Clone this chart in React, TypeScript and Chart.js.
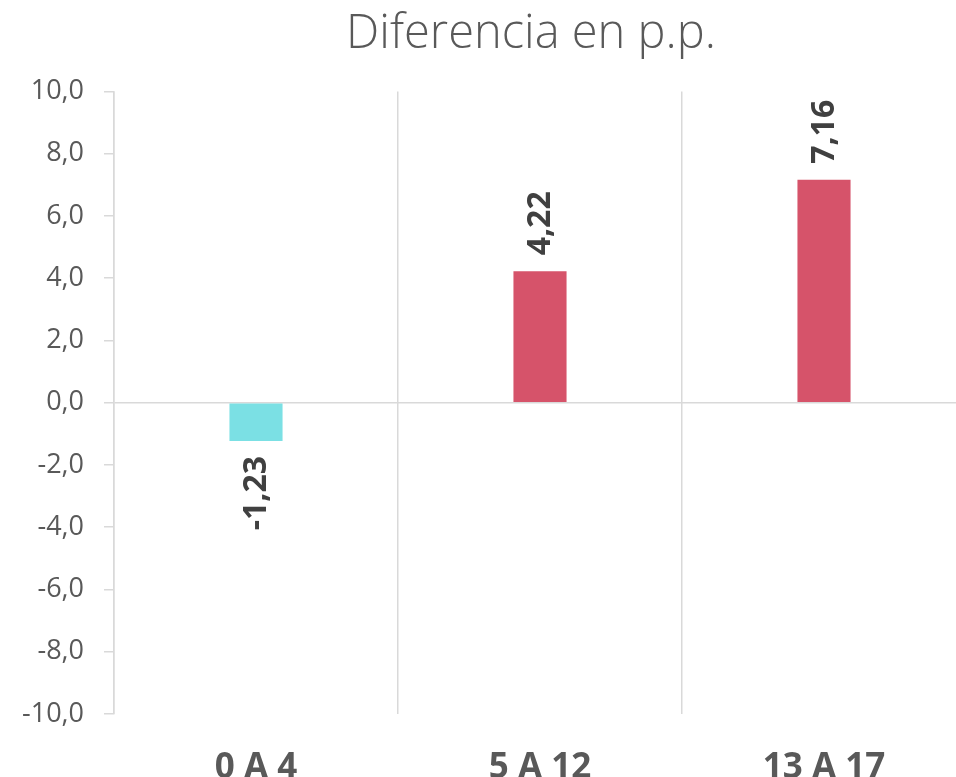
import React, { useEffect, useRef } from "react";
import { Chart, registerables } from "chart.js";

Chart.register(...registerables);

const categories = ["0 A 4", "5 A 12", "13 A 17"];
const values = [-1.23, 4.22, 7.16];
const barColors = ["#7BE0E4", "#D6536A", "#D6536A"];
const titleText = "Diferencia en p.p.";
const yMin = -10;
const yMax = 10;
const yStep = 2;

const fmt = (v: number, d: number) => v.toFixed(d).replace(".", ",");

const dataLabelPlugin = {
  id: "dataLabels",
  afterDatasetsDraw(chart: any) {
    const ctx = chart.ctx;
    const meta = chart.getDatasetMeta(0);
    ctx.save();
    ctx.font = "bold 32px 'Open Sans'";
    ctx.fillStyle = "#404040";
    ctx.textBaseline = "middle";
    meta.data.forEach((el: any, i: number) => {
      const v = values[i];
      const { x, y } = el.getProps(["x", "y"], true);
      ctx.save();
      ctx.translate(x, y);
      ctx.rotate(-Math.PI / 2);
      if (v >= 0) {
        ctx.textAlign = "left";
        ctx.fillText(fmt(v, 2), 16, 1);
      } else {
        ctx.textAlign = "right";
        ctx.fillText(fmt(v, 2), -15, 1);
      }
      ctx.restore();
    });
    ctx.restore();
  },
};

const titleShiftPlugin = {
  id: "titleShift",
  afterLayout(chart: any) {
    const t = chart.titleBlock;
    if (t) {
      t.left -= 9;
      t.right -= 9;
    }
  },
};

export default function App() {
  const ref = useRef<HTMLCanvasElement | null>(null);
  useEffect(() => {
    if (!ref.current) return;
    const chart = new Chart(ref.current, {
      type: "bar",
      data: {
        labels: categories,
        datasets: [
          {
            data: values,
            backgroundColor: barColors,
            borderWidth: 0,
            barPercentage: 0.187,
            categoryPercentage: 1,
          },
        ],
      },
      options: {
        responsive: false,
        animation: false,
        layout: { padding: { left: 0, right: 0, top: 0, bottom: 0 } },
        plugins: {
          legend: { display: false },
          tooltip: { enabled: false },
          title: {
            display: true,
            text: titleText,
            fullSize: false,
            color: "#595959",
            font: { family: "'Open Sans'", size: 47, weight: "300" as any },
            padding: { top: 6, bottom: 29 },
          },
        },
        scales: {
          x: {
            afterFit(scale: any) {
              scale.height = 75;
            },
            grid: {
              display: true,
              offset: true,
              color: "#D9D9D9",
              lineWidth: 1.5,
              drawTicks: false,
            },
            border: { display: false },
            ticks: {
              color: "#595959",
              padding: 33,
              font: { family: "'Open Sans'", size: 35, weight: "bold" },
            },
          },
          y: {
            min: yMin,
            max: yMax,
            afterFit(scale: any) {
              scale.width = 114;
            },
            ticks: {
              stepSize: yStep,
              color: "#595959",
              padding: 20,
              font: { family: "'Open Sans'", size: 27 },
              callback: (v: any) => fmt(Number(v), 1),
            },
            grid: {
              color: (c: any) => (c.tick && c.tick.value === 0 ? "#D9D9D9" : "rgba(0,0,0,0)"),
              tickColor: "#D9D9D9",
              tickLength: 10,
              lineWidth: 1.5,
            },
            border: { display: true, color: "#D9D9D9", width: 1.5 },
          },
        },
      },
      plugins: [dataLabelPlugin, titleShiftPlugin],
    });
    return () => chart.destroy();
  }, []);
  return (
    <div
      style={{
        position: "fixed",
        left: 0,
        top: 0,
        width: 956,
        height: 777,
        overflow: "hidden",
        background: "#fff",
      }}
    >
      <canvas ref={ref} width={966} height={789} style={{ width: 966, height: 789, display: "block" }} />
    </div>
  );
}
